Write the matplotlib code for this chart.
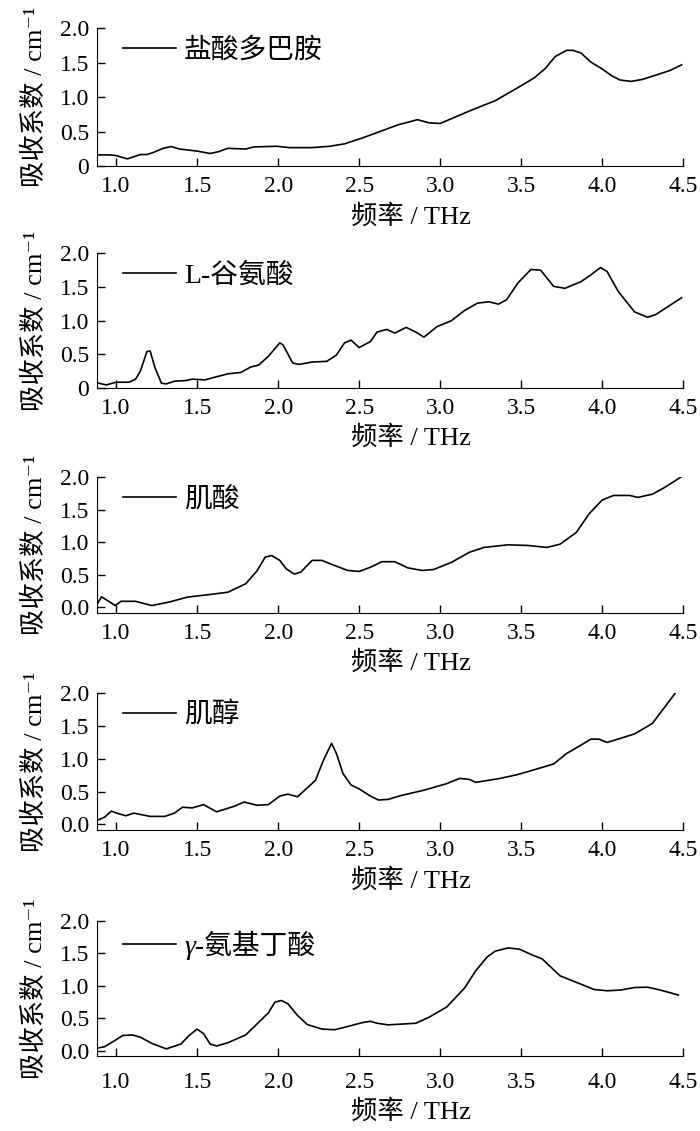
import matplotlib
matplotlib.use("Agg")
import matplotlib.pyplot as plt

plt.rcParams['font.family'] = ['Liberation Serif', 'DejaVu Serif', 'Noto Sans CJK SC']

# 各样品的吸收谱
names = ["盐酸多巴胺", "L-谷氨酸", "肌酸", "肌醇", "γ-氨基丁酸"]

x1 = [0.884, 0.96, 1.0, 1.07, 1.15, 1.19, 1.23, 1.29, 1.34, 1.39, 1.5, 1.58, 1.63, 1.69, 1.8,
      1.85, 1.99, 2.07, 2.21, 2.32, 2.41, 2.52, 2.63, 2.74, 2.86, 2.93, 3.0, 3.07, 3.2, 3.34,
      3.48, 3.58, 3.65, 3.71, 3.78, 3.82, 3.87, 3.93, 4.0, 4.06, 4.11, 4.18, 4.25, 4.33, 4.42, 4.49]
y1 = [0.165, 0.165, 0.155, 0.107, 0.17, 0.17, 0.2, 0.26, 0.286, 0.25, 0.22, 0.185, 0.21, 0.26, 0.25,
      0.28, 0.29, 0.27, 0.27, 0.29, 0.325, 0.41, 0.505, 0.60, 0.675, 0.63, 0.62, 0.69, 0.82, 0.95,
      1.14, 1.28, 1.42, 1.59, 1.68, 1.68, 1.64, 1.51, 1.41, 1.31, 1.25, 1.23, 1.26, 1.32, 1.39, 1.47]

x2 = [0.884, 0.94, 1.0, 1.08, 1.12, 1.15, 1.19, 1.21, 1.24, 1.28, 1.31, 1.36, 1.43, 1.47, 1.55,
      1.61, 1.69, 1.77, 1.83, 1.88, 1.94, 2.01, 2.03, 2.09, 2.13, 2.21, 2.3, 2.36, 2.41, 2.45,
      2.5, 2.57, 2.61, 2.67, 2.72, 2.79, 2.85, 2.9, 2.98, 3.07, 3.15, 3.23, 3.3, 3.36, 3.41,
      3.48, 3.56, 3.62, 3.7, 3.77, 3.87, 3.93, 3.99, 4.03, 4.1, 4.2, 4.28, 4.33, 4.49]
y2 = [0.075, 0.045, 0.085, 0.085, 0.13, 0.25, 0.54, 0.55, 0.30, 0.07, 0.06, 0.10, 0.11, 0.13, 0.12,
      0.16, 0.21, 0.23, 0.31, 0.34, 0.47, 0.67, 0.64, 0.37, 0.35, 0.385, 0.395, 0.49, 0.67, 0.71,
      0.60, 0.69, 0.83, 0.87, 0.815, 0.90, 0.83, 0.755, 0.91, 1.0, 1.15, 1.26, 1.28, 1.245, 1.31,
      1.56, 1.76, 1.75, 1.51, 1.48, 1.58, 1.68, 1.79, 1.73, 1.43, 1.13, 1.05, 1.09, 1.34]

x3 = [0.884, 0.91, 0.96, 0.995, 1.03, 1.12, 1.22, 1.33, 1.44, 1.58, 1.69, 1.80, 1.87, 1.92, 1.96,
      2.01, 2.05, 2.1, 2.14, 2.21, 2.27, 2.35, 2.43, 2.5, 2.57, 2.64, 2.72, 2.80, 2.89, 2.96,
      3.07, 3.18, 3.27, 3.42, 3.54, 3.66, 3.74, 3.84, 3.92, 4.0, 4.07, 4.17, 4.22, 4.31, 4.39, 4.49]
y3 = [0.05, 0.16, 0.08, 0.025, 0.09, 0.09, 0.025, 0.08, 0.155, 0.195, 0.23, 0.36, 0.56, 0.77, 0.795,
      0.72, 0.59, 0.51, 0.54, 0.72, 0.72, 0.64, 0.565, 0.55, 0.615, 0.70, 0.70, 0.605, 0.565, 0.58,
      0.69, 0.845, 0.92, 0.96, 0.95, 0.92, 0.97, 1.15, 1.44, 1.65, 1.72, 1.72, 1.69, 1.74, 1.85, 2.01]

x4 = [0.884, 0.93, 0.97, 1.01, 1.06, 1.11, 1.15, 1.21, 1.30, 1.36, 1.41, 1.47, 1.54, 1.62, 1.73,
      1.79, 1.87, 1.94, 2.01, 2.06, 2.12, 2.23, 2.28, 2.33, 2.36, 2.4, 2.45, 2.50, 2.57, 2.62,
      2.68, 2.76, 2.9, 3.04, 3.12, 3.18, 3.22, 3.37, 3.48, 3.59, 3.70, 3.78, 3.87, 3.93, 3.98,
      4.03, 4.11, 4.20, 4.31, 4.38, 4.45]
y4 = [0.06, 0.11, 0.20, 0.165, 0.13, 0.17, 0.15, 0.12, 0.12, 0.17, 0.26, 0.25, 0.30, 0.19, 0.275,
      0.34, 0.29, 0.30, 0.43, 0.46, 0.42, 0.67, 0.98, 1.235, 1.08, 0.775, 0.60, 0.54, 0.43, 0.37,
      0.38, 0.44, 0.52, 0.62, 0.70, 0.685, 0.64, 0.70, 0.76, 0.84, 0.92, 1.08, 1.21, 1.30, 1.30,
      1.25, 1.31, 1.38, 1.54, 1.77, 2.0]

x5 = [0.884, 0.93, 0.99, 1.04, 1.10, 1.15, 1.22, 1.31, 1.40, 1.45, 1.50, 1.54, 1.58, 1.62, 1.69,
      1.80, 1.87, 1.94, 1.98, 2.02, 2.06, 2.12, 2.18, 2.27, 2.35, 2.43, 2.52, 2.57, 2.61, 2.68,
      2.85, 2.93, 3.04, 3.15, 3.22, 3.29, 3.34, 3.42, 3.49, 3.56, 3.63, 3.74, 3.84, 3.95, 4.03,
      4.11, 4.20, 4.28, 4.36, 4.47]
y5 = [0.035, 0.06, 0.15, 0.23, 0.24, 0.205, 0.11, 0.025, 0.10, 0.23, 0.33, 0.26, 0.10, 0.07, 0.12,
      0.24, 0.41, 0.58, 0.745, 0.77, 0.72, 0.54, 0.40, 0.33, 0.32, 0.37, 0.43, 0.45, 0.42, 0.395,
      0.42, 0.51, 0.67, 0.96, 1.23, 1.44, 1.53, 1.58, 1.56, 1.48, 1.41, 1.15, 1.05, 0.94, 0.92,
      0.93, 0.97, 0.975, 0.93, 0.855]

xs = [x1, x2, x3, x4, x5]
ys = [y1, y2, y3, y4, y5]

xticks = [1.0, 1.5, 2.0, 2.5, 3.0, 3.5, 4.0, 4.5]
yticks = [0.0, 0.5, 1.0, 1.5, 2.0]
ytick_labels = [["0", "0.5", "1.0", "1.5", "2.0"],
                ["0", "0.5", "1.0", "1.5", "2.0"],
                ["0.0", "0.5", "1.0", "1.5", "2.0"],
                ["0.0", "0.5", "1.0", "1.5", "2.0"],
                ["0.0", "0.5", "1.0", "1.5", "2.0"]]
ybottom = [0.0, 0.0, -0.09, -0.09, -0.09]

# 子图位置 (left, bottom, width, height)
boxes = [
    [0.139, 0.853, 0.837, 0.122],
    [0.139, 0.657, 0.837, 0.119],
    [0.139, 0.458, 0.837, 0.120],
    [0.139, 0.266, 0.837, 0.121],
    [0.139, 0.066, 0.837, 0.120],
]
xpads = [7, 7, 7, 7, 11]

fig = plt.figure(figsize=(7, 11.31), dpi=100)

for i in range(5):
    ax = fig.add_axes(boxes[i])
    ax.plot(xs[i], ys[i], color='black', linewidth=1.2, label=names[i])
    ax.set_xlim(0.884, 4.5)
    ax.set_ylim(ybottom[i], 2.0)
    ax.set_xticks(xticks)
    ax.set_xticklabels([f"{t:.1f}" for t in xticks])
    ax.set_yticks(yticks)
    ax.set_yticklabels(ytick_labels[i])
    ax.spines['top'].set_visible(False)
    ax.spines['right'].set_visible(False)
    ax.tick_params(direction='in', length=5.5, width=1, labelsize=17)
    ax.tick_params(axis='x', pad=xpads[i])
    ax.tick_params(axis='y', pad=6)
    ax.set_xlabel("频率 / THz", fontsize=19, labelpad=5)
    ax.xaxis.label.set_x(0.535)
    ax.set_ylabel("吸收系数 / cm⁻¹", fontsize=19, labelpad=9)
    leg = ax.legend(loc='upper left', frameon=False, fontsize=20,
                    handlelength=1.9, handletextpad=0.3, borderaxespad=0.1,
                    bbox_to_anchor=(0.02, 1.03))
    if i == 4:
        leg.get_texts()[0].set_fontstyle('italic')

fig.savefig("out.png", dpi=100)
